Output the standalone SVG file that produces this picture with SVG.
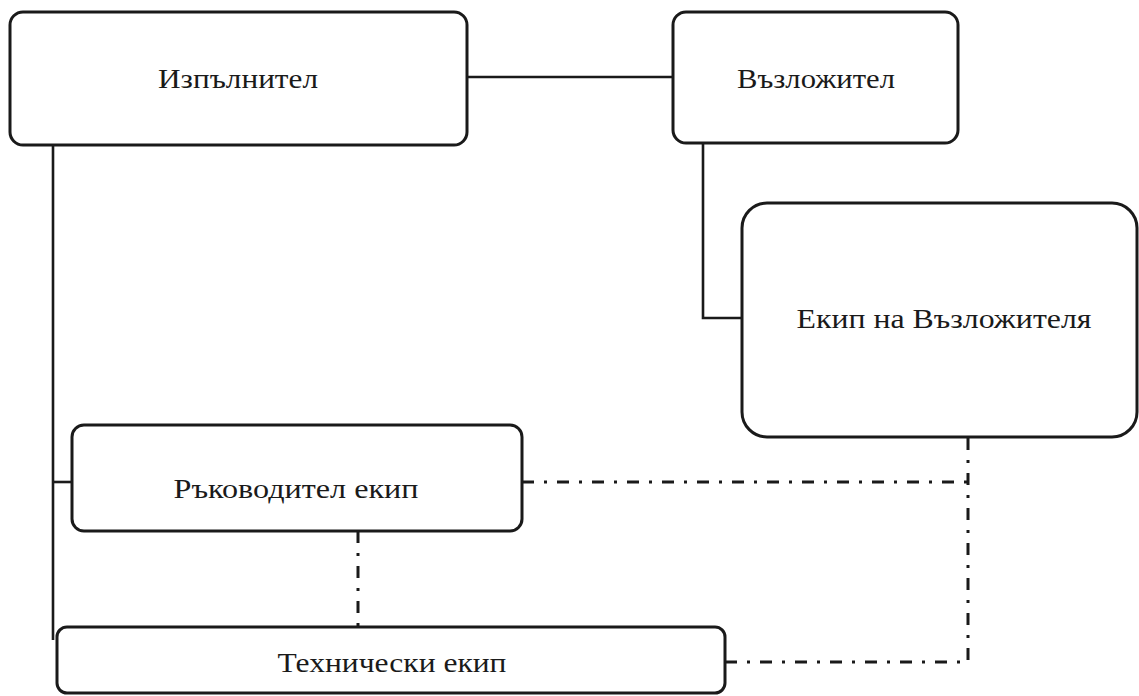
<svg xmlns="http://www.w3.org/2000/svg" width="1139" height="696" viewBox="0 0 1139 696">
<style>
.box{fill:#fff;stroke:#1a1a1a;stroke-width:3}
.lbl{font-family:"Liberation Serif","Times New Roman",serif;font-size:27px;fill:#1a1a1a;text-anchor:middle}
.solid{fill:none;stroke:#1a1a1a;stroke-width:2.6}
.dd{fill:none;stroke:#1a1a1a;stroke-width:3;stroke-dasharray:12 10 3 10}
</style>
<rect width="1139" height="696" fill="#fff"/>
<g id="connectors">
<line class="solid" x1="467" y1="77" x2="673" y2="77"/>
<polyline class="solid" points="703,143 703,318 742,318"/>
<line class="solid" x1="53" y1="145" x2="53" y2="640"/>
<line class="solid" x1="53" y1="482" x2="72" y2="482"/>
<line class="dd" x1="522" y1="482" x2="968" y2="482"/>
<polyline class="dd" points="968,438 968,662 725,662"/>
<line class="dd" x1="358" y1="531" x2="358" y2="627"/>
</g>
<g id="node-izpalnitel">
<rect class="box" x="10" y="12" width="457" height="133" rx="13"/>
<text class="lbl" x="238" y="88" textLength="160" lengthAdjust="spacingAndGlyphs">Изпълнител</text>
</g>
<g id="node-vazlozhitel">
<rect class="box" x="673" y="12" width="285" height="131" rx="13"/>
<text class="lbl" x="816" y="88" textLength="158" lengthAdjust="spacingAndGlyphs">Възложител</text>
</g>
<g id="node-ekip-vazlozhitel">
<rect class="box" x="742" y="203" width="395" height="234" rx="25"/>
<text class="lbl" x="944" y="328" textLength="295" lengthAdjust="spacingAndGlyphs">Екип на Възложителя</text>
</g>
<g id="node-rakovoditel">
<rect class="box" x="72" y="425" width="450" height="106" rx="12"/>
<text class="lbl" x="296" y="498" textLength="245" lengthAdjust="spacingAndGlyphs">Ръководител екип</text>
</g>
<g id="node-tehnicheski">
<rect class="box" x="57" y="627" width="668" height="66" rx="10"/>
<text class="lbl" x="392" y="672" textLength="229" lengthAdjust="spacingAndGlyphs">Технически екип</text>
</g>
</svg>
